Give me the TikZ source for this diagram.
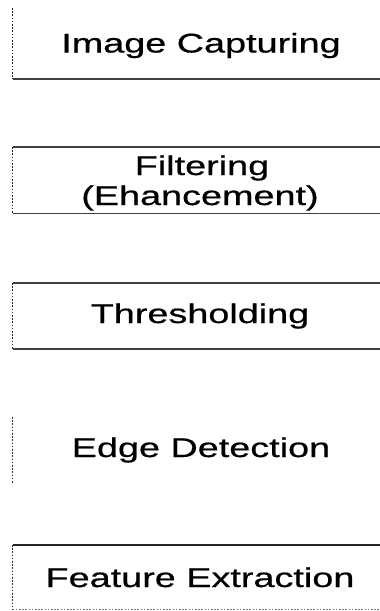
\documentclass[tikz,border=0pt]{standalone}
\usepackage{fontspec}
\setmainfont{Liberation Sans}[FakeStretch=1.4,FakeBold=0.6]
\begin{document}
\begin{tikzpicture}[x=1pt,y=-1pt,
  label/.style={anchor=base,inner sep=0pt,font=\fontsize{27}{30}\selectfont},
  rule/.style={draw=black!75,line width=1.8pt},
  dotrule/.style={draw=black!85,line width=1.6pt,dash pattern=on 1.6pt off 1.6pt},
  lightdot/.style={draw=black!55,line width=1.3pt,dash pattern=on 1.6pt off 1.6pt}]
\useasboundingbox (0,0) rectangle (380,611);

% Stage 1: image capturing
\draw[dotrule] (12.5,8) -- (12.5,79);
\draw[rule] (12.5,79) -- (380,79);
\node[label] (cap) at (201,52.5) {Image Capturing};

% Stage 2: filtering
\draw[rule] (12.5,147) -- (380,147);
\draw[rule] (12.5,213.5) -- (380,213.5);
\draw[dotrule] (12.5,147) -- (12.5,213.5);
\node[label] (filt1) at (202,175) {Filtering};
\node[label] (filt2) at (200,205) {(Ehancement)};

% Stage 3: thresholding
\draw[rule] (12.5,283) -- (380,283);
\draw[rule] (12.5,349) -- (380,349);
\draw[dotrule] (12.5,283) -- (12.5,349);
\node[label] (thr) at (200,323) {Thresholding};

% Stage 4: edge detection
\draw[dotrule] (12.5,417) -- (12.5,483);
\node[label] (edge) at (201,457) {Edge Detection};

% Stage 5: feature extraction
\draw[rule,draw=black!85,line width=2pt] (12.5,545) -- (380,545);
\draw[lightdot] (12.5,609.5) -- (380,609.5);
\draw[dotrule] (12.5,545) -- (12.5,609.5);
\node[label] (feat) at (200,587) {Feature Extraction};
\end{tikzpicture}
\end{document}
